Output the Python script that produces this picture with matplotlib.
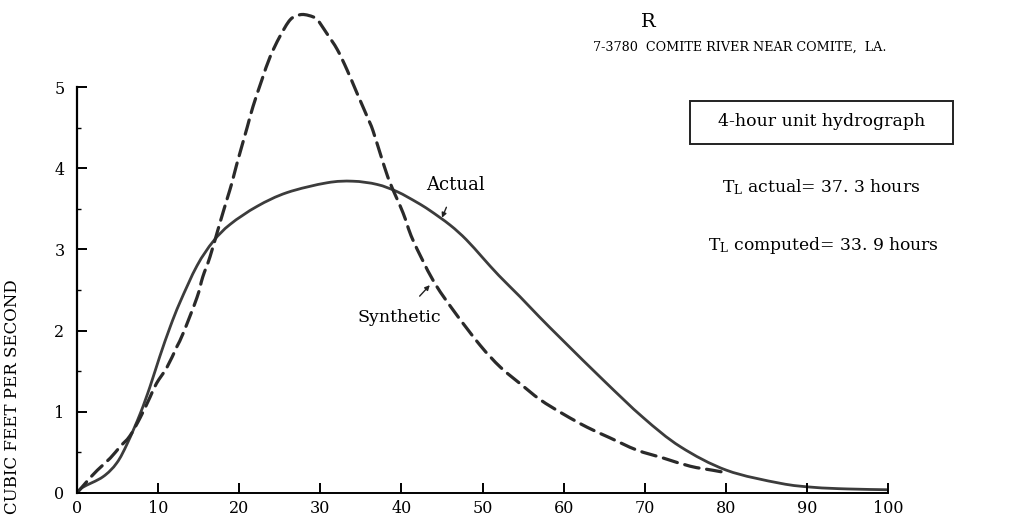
import numpy as np
import matplotlib
matplotlib.use('Agg')
import matplotlib.pyplot as plt
from matplotlib.patches import Rectangle, PathPatch
from matplotlib.path import Path

plt.rcParams['font.family'] = 'DejaVu Serif'
plt.rcParams['mathtext.fontset'] = 'dejavuserif'

# 4-hour unit hydrograph
actual_hours = [0, 0.7, 3.2, 4.9, 6.2, 7.8, 9.0, 10.2, 11.5, 12.7, 14.8, 16.8, 18.9, 22.2,
                25.9, 30.8, 34.0, 37.0, 39.5, 41.9, 43.5, 46.0, 48.0, 50.0, 52.0, 54.6,
                57.0, 60.0, 65.0, 69.8, 74.4, 80.1, 86.7, 90.8, 95.0, 100.0]
actual_cfs = [0, 0.07, 0.20, 0.37, 0.61, 0.98, 1.31, 1.68, 2.05, 2.35, 2.80, 3.10, 3.31, 3.53,
              3.70, 3.82, 3.84, 3.80, 3.71, 3.58, 3.48, 3.30, 3.12, 2.90, 2.68, 2.42,
              2.17, 1.87, 1.38, 0.93, 0.57, 0.28, 0.12, 0.07, 0.05, 0.04]

synthetic_hours = [0, 1.2, 2.5, 4.1, 5.3, 6.5, 7.8, 9.0, 9.8, 11.1, 12.3, 13.1, 14.8, 15.5,
                   16.4, 17.6, 18.5, 19.1, 19.7, 21.0, 21.7, 22.8, 23.8, 25.0, 26.3, 27.5,
                   28.6, 29.6, 30.8, 32.1, 33.3, 34.5, 35.8, 36.5, 37.7, 38.6, 40.2, 41.4,
                   43.9, 46.4, 49.7, 52.2, 54.6, 57.1, 60.0, 62.9, 65.7, 69.0, 72.3, 75.6,
                   78.4, 79.5]
synthetic_cfs = [0, 0.14, 0.28, 0.43, 0.57, 0.70, 0.93, 1.18, 1.35, 1.55, 1.80, 1.97, 2.41, 2.66,
                 2.91, 3.32, 3.62, 3.82, 4.05, 4.51, 4.76, 5.09, 5.37, 5.62, 5.83, 5.89,
                 5.88, 5.83, 5.66, 5.46, 5.21, 4.93, 4.63, 4.46, 4.08, 3.82, 3.45, 3.12,
                 2.62, 2.25, 1.82, 1.55, 1.35, 1.15, 0.97, 0.81, 0.68, 0.53, 0.43, 0.33,
                 0.28, 0.26]

x_ticks = [0, 10, 20, 30, 40, 50, 60, 70, 80, 90, 100]
y_ticks = [0, 1, 2, 3, 4, 5]


def smooth_path(xs, ys):
    # Catmull-Rom through the read points, as cubic bezier segments
    pts = np.column_stack([xs, ys]).astype(float)
    p = np.vstack([pts[0], pts, pts[-1]])
    verts = [pts[0]]
    codes = [Path.MOVETO]
    for i in range(1, len(p) - 2):
        p0, p1, p2, p3 = p[i - 1], p[i], p[i + 1], p[i + 2]
        verts += [p1 + (p2 - p0) / 6, p2 - (p3 - p1) / 6, p2]
        codes += [Path.CURVE4] * 3
    return Path(verts, codes)


fig = plt.figure(figsize=(10.34, 5.19), dpi=100)
ax = fig.add_axes([0.0745, 0.0501, 0.7843, 0.9387])

ax.add_patch(PathPatch(smooth_path(actual_hours, actual_cfs), fill=False,
                       edgecolor='#3c3c3c', lw=2.0, capstyle='round'))
ax.add_patch(PathPatch(smooth_path(synthetic_hours, synthetic_cfs), fill=False,
                       edgecolor='#2a2a2a', lw=2.3, linestyle=(0, (4.6, 2.4)),
                       capstyle='round'))

ax.set_xlim(0, 100)
ax.set_ylim(0, 6.0)
ax.spines['top'].set_visible(False)
ax.spines['right'].set_visible(False)
ax.spines['left'].set_bounds(0, 5)
ax.spines['left'].set_linewidth(1.6)
ax.spines['bottom'].set_linewidth(1.4)

ax.set_xticks(x_ticks)
ax.set_yticks(y_ticks)
ax.set_yticks(np.arange(0.5, 5, 1.0), minor=True)
ax.tick_params(axis='both', which='major', direction='in', length=7, width=1.4,
               labelsize=11.5)
ax.tick_params(axis='x', which='major', pad=5)
ax.tick_params(axis='y', which='major', pad=9)
ax.tick_params(axis='y', which='minor', direction='in', length=3, width=1.0)

ax.annotate('Actual', xy=(45.0, 3.39), xytext=(46.7, 3.79), ha='center', va='center',
            fontsize=13,
            arrowprops=dict(arrowstyle='-|>', color='#222222', lw=1.0,
                            mutation_scale=7, shrinkA=8, shrinkB=0))
ax.annotate('Synthetic', xy=(43.5, 2.56), xytext=(39.8, 2.16), ha='center', va='center',
            fontsize=12.5,
            arrowprops=dict(arrowstyle='-|>', color='#222222', lw=1.0,
                            mutation_scale=7, shrinkA=10, shrinkB=0))

fig.text(13 / 1034, 1 - 397 / 519, 'CUBIC FEET PER SECOND', rotation=90,
         ha='center', va='center', fontsize=12)

fig.text(648 / 1034, 1 - 22 / 519, 'R', ha='center', va='center', fontsize=14)
fig.text(740 / 1034, 1 - 47 / 519, '7-3780  COMITE RIVER NEAR COMITE,  LA.',
         ha='center', va='center', fontsize=9.2)
fig.patches.append(Rectangle((690 / 1034, 1 - 144 / 519), 263 / 1034, 43 / 519,
                             transform=fig.transFigure, fill=False,
                             edgecolor='#222222', lw=1.4))
fig.text(822 / 1034, 1 - 122 / 519, '4-hour unit hydrograph',
         ha='center', va='center', fontsize=12.5)
fig.text(821 / 1034, 1 - 187 / 519, r'T$_\mathrm{L}$ actual= 37. 3 hours',
         ha='center', va='center', fontsize=12.3)
fig.text(823 / 1034, 1 - 245 / 519, r'T$_\mathrm{L}$ computed= 33. 9 hours',
         ha='center', va='center', fontsize=12.3)

fig.savefig('out.png', dpi=100)
